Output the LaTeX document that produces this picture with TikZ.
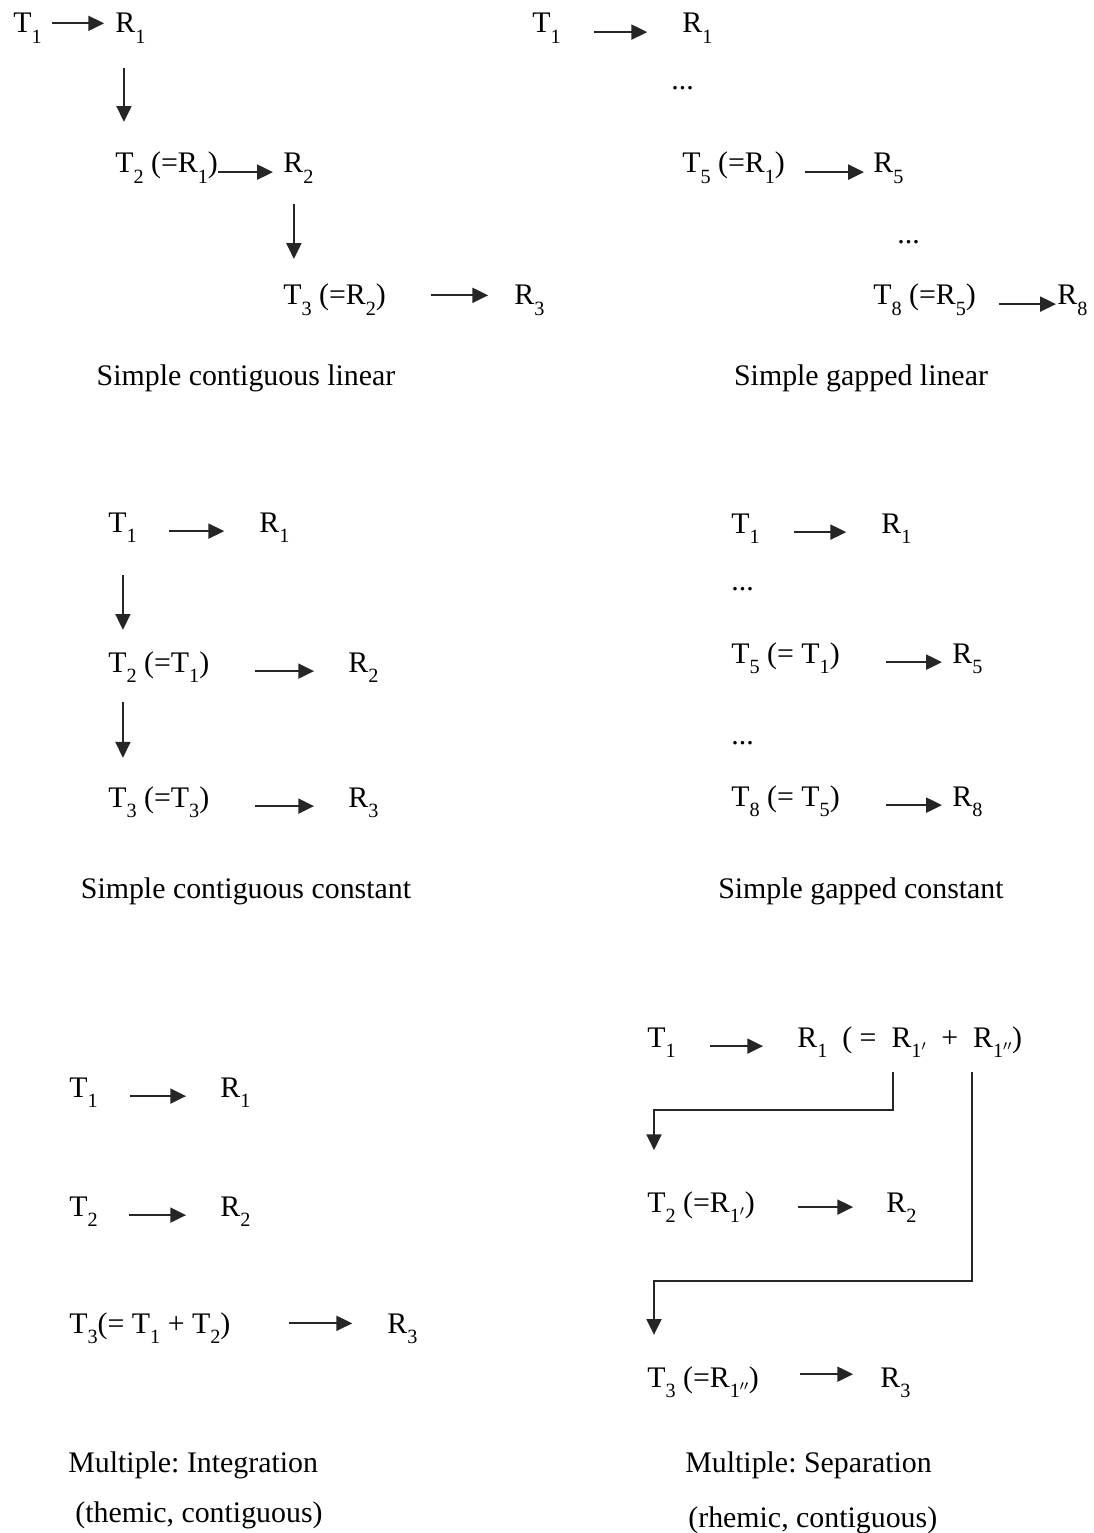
\documentclass[tikz,border=0pt]{standalone}
\usepackage{fontspec}
\setmainfont{Liberation Serif}
\usepackage{tikz}
\usetikzlibrary{arrows.meta}
\newcommand{\ix}[1]{\raisebox{-0.36em}{\fontsize{11.5pt}{11.5pt}\selectfont #1}}

\begin{document}
\begin{tikzpicture}[x=0.02cm, y=-0.02cm,
	every node/.style={font=\fontsize{17pt}{20pt}\selectfont\frenchspacing, inner sep=0pt},
	term/.style={anchor=base west, text height=12pt, text depth=11pt},
	dots/.style={anchor=base west},
	capt/.style={anchor=base},
	capl/.style={anchor=base west},
	arr/.style={draw=black!85, line width=1.2pt, -{Triangle[length=9pt, width=8.5pt]}}]
	\useasboundingbox (0,0) rectangle (1094,1533);

	\node[term] (lcT1) at (13,33) {T\ix{1}};
	\node[term] (lcR1) at (115,33) {R\ix{1}};
	\node[term] (lcT2) at (115,173) {T\ix{2} (=R\ix{1})};
	\node[term] (lcR2) at (283,173) {R\ix{2}};
	\node[term] (lcT3) at (283,305) {T\ix{3} (=R\ix{2})};
	\node[term] (lcR3) at (514,305) {R\ix{3}};
	\draw[arr, shorten <=5.7pt, shorten >=6.2pt] ([yshift=5pt]lcT1.east) -- ([yshift=5pt]lcR1.west);
	\draw[arr, shorten >=5.7pt] (lcT2.east) -- (lcR2.west);
	\draw[arr, shorten <=25.5pt, shorten >=14.7pt] ([yshift=5pt]lcT3.east) -- ([yshift=5pt]lcR3.west);
	\draw[arr, shorten <=8.8pt, shorten >=16.9pt] ([xshift=5.1pt]lcR1.south west) -- ([xshift=5.1pt]lcT2.north west);
	\draw[arr, shorten <=6.6pt, shorten >=14pt] ([xshift=6.2pt]lcR2.south west) -- ([xshift=6.2pt]lcT3.north west);
	\node[capt] (lcC) at (246,386) {Simple contiguous linear};

	\node[term] (lgT1) at (532,33) {T\ix{1}};
	\node[term] (lgR1) at (682,33) {R\ix{1}};
	\node[dots] (lgD1) at (671,90) {...};
	\node[term] (lgT5) at (682,173) {T\ix{5} (=R\ix{1})};
	\node[term] (lgR5) at (873,173) {R\ix{5}};
	\node[dots] (lgD2) at (897,244) {...};
	\node[term] (lgT8) at (873,305) {T\ix{8} (=R\ix{5})};
	\node[term] (lgR8) at (1057,305) {R\ix{8}};
	\draw[arr, shorten <=18.7pt, shorten >=19.8pt] (lgT1.east) -- (lgR1.west);
	\draw[arr, shorten <=11.3pt, shorten >=5.1pt] (lgT5.east) -- (lgR5.west);
	\draw[arr, shorten <=13pt, shorten >=0.6pt] (lgT8.east) -- (lgR8.west);
	\node[capt] (lgC) at (861,386) {Simple gapped linear};

	\node[term] (ccT1) at (108,532) {T\ix{1}};
	\node[term] (ccR1) at (259,532) {R\ix{1}};
	\node[term] (ccT2) at (108,672) {T\ix{2} (=T\ix{1})};
	\node[term] (ccR2) at (348,672) {R\ix{2}};
	\node[term] (ccT3) at (108,807) {T\ix{3} (=T\ix{3})};
	\node[term] (ccR3) at (348,807) {R\ix{3}};
	\draw[arr, shorten <=18.1pt, shorten >=19.8pt] (ccT1.east) -- (ccR1.west);
	\draw[arr, shorten <=26.1pt, shorten >=19.3pt] (ccT2.east) -- (ccR2.west);
	\draw[arr, shorten <=26.1pt, shorten >=19.3pt] (ccT3.east) -- (ccR3.west);
	\draw[arr, shorten <=13.4pt, shorten >=11.8pt] ([xshift=8.5pt]ccT1.south west) -- ([xshift=8.5pt]ccT2.north west);
	\draw[arr, shorten <=6pt, shorten >=15.8pt] ([xshift=8.5pt]ccT2.south west) -- ([xshift=8.5pt]ccT3.north west);
	\node[capt] (ccC) at (246,898) {Simple contiguous constant};

	\node[term] (cgT1) at (731,533) {T\ix{1}};
	\node[term] (cgR1) at (881,533) {R\ix{1}};
	\node[dots] (cgD1) at (731,590) {...};
	\node[term] (cgT5) at (731,663) {T\ix{5} (= T\ix{1})};
	\node[term] (cgR5) at (952,663) {R\ix{5}};
	\node[dots] (cgD2) at (731,744) {...};
	\node[term] (cgT8) at (731,806) {T\ix{8} (= T\ix{5})};
	\node[term] (cgR8) at (952,806) {R\ix{8}};
	\draw[arr, shorten <=19.3pt, shorten >=19.8pt] (cgT1.east) -- (cgR1.west);
	\draw[arr, shorten <=26.1pt, shorten >=5.7pt] (cgT5.east) -- (cgR5.west);
	\draw[arr, shorten <=26.1pt, shorten >=5.7pt] (cgT8.east) -- (cgR8.west);
	\node[capt] (cgC) at (861,898) {Simple gapped constant};

	\node[term] (miT1) at (69,1097) {T\ix{1}};
	\node[term] (miR1) at (220,1097) {R\ix{1}};
	\node[term] (miT2) at (69,1216) {T\ix{2}};
	\node[term] (miR2) at (220,1216) {R\ix{2}};
	\node[term] (miT3) at (69,1333) {T\ix{3}(= T\ix{1} + T\ix{2})};
	\node[term] (miR3) at (387,1333) {R\ix{3}};
	\draw[arr, shorten <=18.1pt, shorten >=19.3pt] (miT1.east) -- (miR1.west);
	\draw[arr, shorten <=17.6pt, shorten >=19.3pt] (miT2.east) -- (miR2.west);
	\draw[arr, shorten <=32.9pt, shorten >=19.8pt] ([yshift=5pt]miT3.east) -- ([yshift=5pt]miR3.west);
	\node[capl] (miC1) at (68,1472) {Multiple: Integration};
	\node[capl] (miC2) at (75,1522) {(themic, contiguous)};

	\node[term] (msT1) at (647,1047) {T\ix{1}};
	\node[term] (msR1) at (797,1047) {R\ix{1}\ \ ( =\enspace R\ix{1$'$}\enspace+\enspace R\ix{1$''$})};
	\node[term] (msT2) at (647,1212) {T\ix{2} (=R\ix{1$'$})};
	\node[term] (msR2) at (886,1212) {R\ix{2}};
	\node[term] (msT3) at (647,1387) {T\ix{3} (=R\ix{1$''$})};
	\node[term] (msR3) at (880,1387) {R\ix{3}};
	\coordinate (msA) at (893,1072);
	\coordinate (msB) at (972,1072);
	\coordinate (msK1) at (654,1110);
	\coordinate (msK2) at (654,1281);
	\draw[arr, shorten <=19.3pt, shorten >=19.3pt] (msT1.east) -- (msR1.west);
	\draw[arr, shorten <=24.4pt, shorten >=18.7pt] ([yshift=2.3pt]msT2.east) -- ([yshift=2.3pt]msR2.west);
	\draw[arr, shorten <=23.2pt, shorten >=15.3pt] ([yshift=6.8pt]msT3.east) -- ([yshift=6.8pt]msR3.west);
	\draw[arr, shorten >=23pt] (msA) |- (msK1) -- (msK1 |- msT2.north);
	\draw[arr, shorten >=17.5pt] (msB) |- (msK2) -- (msK2 |- msT3.north);
	\node[capl] (msC1) at (685,1472) {Multiple: Separation};
	\node[capl] (msC2) at (688,1527) {(rhemic, contiguous)};
\end{tikzpicture}
\end{document}
